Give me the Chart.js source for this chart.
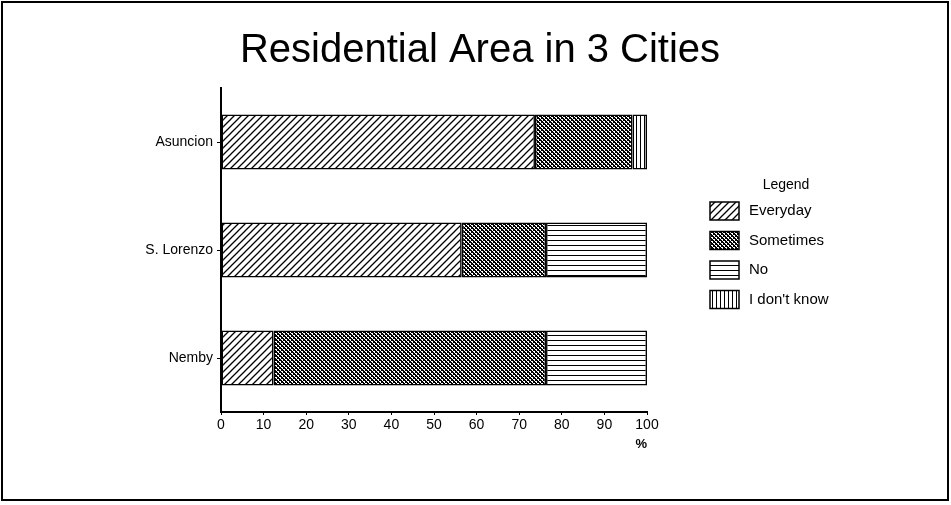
<!DOCTYPE html>
<html>
<head>
<meta charset="utf-8">
<script src="https://cdn.jsdelivr.net/npm/chart.js@4/dist/chart.umd.min.js"></script>
<style>
  html, body { margin: 0; padding: 0; background: #fff; }
  #wrap { width: 951px; height: 505px; }
</style>
</head>
<body>
<div id="wrap"><canvas id="chart" width="951" height="505"></canvas></div>
<script>
const cities      = ['Asuncion', 'S. Lorenzo', 'Nemby'];
const seriesNames = ['Everyday', 'Sometimes', 'No', "I don't know"];
const everyday    = [73.7, 56.5, 12.3];
const sometimes   = [22.9, 19.8, 64.0];
const no          = [0, 23.7, 23.7];
const dontKnow    = [3.4, 0, 0];
const xTicks      = [0, 10, 20, 30, 40, 50, 60, 70, 80, 90, 100];

const FONT = '"Liberation Sans", Arial, sans-serif';

// hatch fills, drawn on little tiles
function tile(w, h, draw) {
    const c = document.createElement('canvas');
    c.width = w; c.height = h;
    const g = c.getContext('2d');
    g.fillStyle = '#fff';
    g.fillRect(0, 0, w, h);
    g.fillStyle = '#000';
    g.strokeStyle = '#000';
    draw(g, w, h);
    return document.createElement('canvas').getContext('2d').createPattern(c, 'repeat');
}

const diag = tile(7, 7, (g, w, h) => {
    g.lineWidth = 1.3;
    g.beginPath();
    g.moveTo(-1, h + 1); g.lineTo(w + 1, -1);
    g.moveTo(-1, 1); g.lineTo(1, -1);
    g.moveTo(w - 1, h + 1); g.lineTo(w + 1, h - 1);
    g.stroke();
});

const cross = tile(4, 4, (g) => {
    for (let y = 0; y < 4; y++) {
        for (let x = 0; x < 4; x++) {
            const m = (x - y + 8) % 4;
            if (m === 0 || m === 1 || (x + y) % 4 === 3) g.fillRect(x, y, 1, 1);
        }
    }
});

const horiz = tile(6, 5, (g, w) => {
    g.fillRect(0, 0, w, 1);
});

const vert = tile(4, 6, (g, w, h) => {
    g.fillRect(0, 0, 1, h);
});

const fills = [diag, cross, horiz, vert];
const values = [everyday, sometimes, no, dontKnow];

const decor = {
    id: 'decor',
    afterDraw(chart) {
        const ctx = chart.ctx;
        ctx.save();
        ctx.strokeStyle = '#000';
        ctx.lineWidth = 2;
        ctx.strokeRect(2, 2, 946, 498);

        ctx.fillStyle = '#000';
        ctx.font = '40px ' + FONT;
        ctx.textAlign = 'center';
        ctx.textBaseline = 'alphabetic';
        ctx.fillText('Residential Area in 3 Cities', 480, 62);

        ctx.font = '14px ' + FONT;
        ctx.textBaseline = 'middle';
        ctx.fillText('Legend', 786, 185);

        ctx.textAlign = 'left';
        ctx.font = '15px ' + FONT;
        seriesNames.forEach((name, i) => {
            const y = 211 + i * 29.5;
            ctx.fillStyle = fills[i];
            ctx.fillRect(710, y - 9, 29, 18);
            ctx.lineWidth = 1.5;
            ctx.strokeRect(710, y - 9, 29, 18);
            ctx.fillStyle = '#000';
            ctx.fillText(name, 749, y);
        });
        ctx.restore();
    }
};

new Chart(document.getElementById('chart'), {
    type: 'bar',
    data: {
        labels: cities,
        datasets: seriesNames.map((name, i) => ({
            label: name,
            data: values[i],
            backgroundColor: fills[i],
            borderColor: '#000',
            borderWidth: 1.6,
            borderSkipped: false,
            categoryPercentage: 1,
            barPercentage: 0.51,
        }))
    },
    options: {
        indexAxis: 'y',
        responsive: false,
        animation: false,
        layout: { padding: { top: 88, right: 304, bottom: 53, left: 0 } },
        plugins: {
            legend: { display: false },
            title: { display: false },
            tooltip: { enabled: false }
        },
        scales: {
            x: {
                stacked: true,
                min: 0,
                max: 100,
                afterBuildTicks: s => { s.ticks = xTicks.map(v => ({ value: v })); },
                afterFit: s => { s.height = 40; },
                ticks: { color: '#000', font: { family: FONT, size: 14 }, padding: 2 },
                grid: { drawOnChartArea: false, drawTicks: true, tickLength: 3, color: '#000' },
                border: { color: '#000', width: 2 },
                title: { display: true, text: '%', align: 'end', color: '#000',
                         font: { family: FONT, size: 13, weight: 'bold' }, padding: 0 }
            },
            y: {
                stacked: true,
                afterFit: s => { s.width = 221; },
                ticks: { color: '#000', font: { family: FONT, size: 14 }, padding: 4 },
                grid: { offset: false, drawOnChartArea: false, drawTicks: true, tickLength: 4, color: '#000' },
                border: { color: '#000', width: 2 }
            }
        }
    },
    plugins: [decor]
});
</script>
</body>
</html>
